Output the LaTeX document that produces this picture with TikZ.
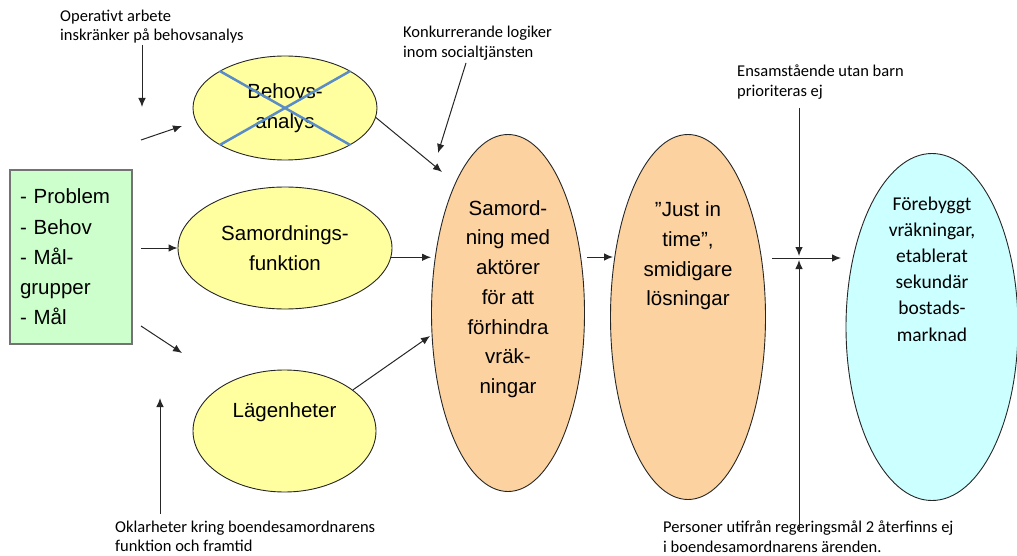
\documentclass[tikz,border=0pt]{standalone}
\usepackage{fontspec}
\setmainfont{Liberation Sans}
\newfontfamily\calfont{Carlito}
\usetikzlibrary{arrows.meta,shapes.geometric,calc}
\definecolor{yel}{RGB}{255,255,160}
\definecolor{orng}{RGB}{252,210,160}
\definecolor{grn}{RGB}{204,255,204}
\definecolor{cyn}{RGB}{204,255,255}
\definecolor{xblue}{RGB}{90,140,200}

\begin{document}
\begin{tikzpicture}[x=1pt,y=-1pt,
      ell/.style={ellipse,draw=black!85,line width=0.9pt,inner sep=0pt,align=center,
        font=\fontsize{20.5}{29.7}\selectfont},
      lbl/.style={inner sep=0pt,align=center,font=\fontsize{20.5}{29.7}\selectfont},
      clbl/.style={inner sep=0pt,align=center,font=\calfont\fontsize{19.5}{26.2}\selectfont},
      note/.style={inner sep=0pt,anchor=west,align=left,font=\calfont\fontsize{16.5}{19.5}\selectfont},
      arr/.style={-{Latex[length=9pt,width=7.5pt]},line width=1pt,black!85},
      xline/.style={draw=xblue,line width=2.5pt}]
    \useasboundingbox (0,0) rectangle (1017,556);

    \node[draw=black!55,fill=grn,line width=1.2pt,minimum width=122pt,minimum height=174pt,
      inner sep=0pt,text width=102pt,align=left,font=\fontsize{20.5}{30.2}\selectfont](box) at (71,257)
      {- Problem\\- Behov\\- Mål-\\grupper\\- Mål};

    \node[ell,fill=yel,minimum width=184pt,minimum height=104pt](behov) at (285,108) {Behovs-\\analys};
    \draw[xline] (behov.north west) -- (behov.south east);
    \draw[xline] (behov.south west) -- (behov.north east);
    \node[ell,fill=yel,minimum width=214pt,minimum height=122pt](samf) at (285,248) {Samordnings-\\funktion};
    \node[ell,fill=yel,minimum width=183pt,minimum height=122pt,
      label={[lbl,yshift=19pt]center:Lägenheter}](lgh) at (284.5,431) {};

    \node[ell,fill=orng,minimum width=153pt,minimum height=357pt,
      label={[lbl,yshift=14pt]center:Samord-\\ning med\\aktörer\\för att\\förhindra\\vräk-\\ningar}](samv) at (508,313) {};
    \node[ell,fill=orng,minimum width=155pt,minimum height=365pt,
      label={[lbl,yshift=61pt]center:”Just in\\time”,\\smidigare\\lösningar}](just) at (688,317) {};
    \node[ell,fill=cyn,minimum width=172pt,minimum height=347pt,
      label={[clbl,yshift=58pt]center:Förebyggt\\vräkningar,\\etablerat\\sekundär\\bostads-\\marknad}](forb) at (932,327) {};

    \node[note](op) at (60,26.5) {Operativt arbete\\inskränker på behovsanalys};
    \node[note](konk) at (403,43) {Konkurrerande logiker\\inom socialtjänsten};
    \node[note](ens) at (737,82) {Ensamstående utan barn\\prioriteras ej};
    \node[note](okl) at (115,536.5) {Oklarheter kring boendesamordnarens\\funktion och framtid};
    \node[note](pers) at (663,536.5) {Personer utifrån regeringsmål 2 återfinns ej\\i boendesamordnarens ärenden.};

    \coordinate (opA) at (142,45);
    \coordinate (opB) at (142,107);
    \coordinate (b1A) at (141,140);
    \coordinate (b1B) at (182,126);
    \coordinate (b2A) at (141,248);
    \coordinate (b3A) at (141,326);
    \coordinate (b3B) at (182,353);
    \coordinate (kA) at (466,63);
    \coordinate (kB) at (438,153);
    \coordinate (bhB) at (442,172);
    \coordinate (lgB) at (430,336);
    \coordinate (okA) at (160,514);
    \coordinate (okB) at (160,398);
    \coordinate (m1A) at (587,257);
    \coordinate (m1B) at (613,257);
    \coordinate (m2A) at (772,258);
    \coordinate (m2B) at (841,258);
    \coordinate (enA) at (799,108);
    \coordinate (enB) at (799,256);
    \coordinate (peA) at (799,530);
    \coordinate (peB) at (799,260);

    \draw[arr] (opA) -- (opB);
    \draw[arr] (b1A) -- (b1B);
    \draw[arr] (b2A) -- (samf.west);
    \draw[arr] (b3A) -- (b3B);
    \draw[arr] (kA) -- (kB);
    \draw[arr] (behov.-6) -- (bhB);
    \draw[arr] (samf.-5) -- (samf.-5 -| samv.west);
    \draw[arr] (lgh.31) -- (lgB);
    \draw[arr] (okA) -- (okB);
    \draw[arr] (m1A) -- (m1B);
    \draw[arr] (m2A) -- (m2B);
    \draw[arr] (enA) -- (enB);
    \draw[arr] (peA) -- (peB);

\end{tikzpicture}
\end{document}
